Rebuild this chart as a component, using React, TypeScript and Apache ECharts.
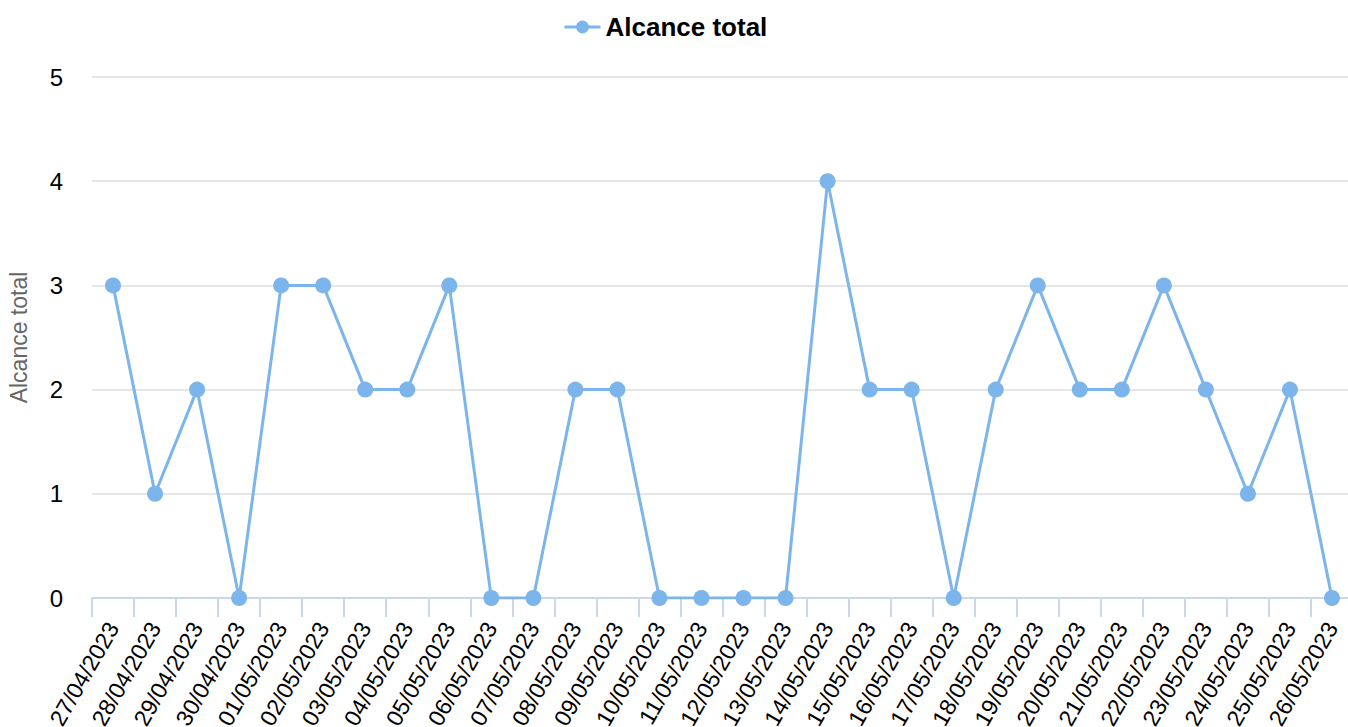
import React, { useEffect, useRef } from "react";
import * as echarts from "echarts";

const categories = [
  "27/04/2023", "28/04/2023", "29/04/2023", "30/04/2023", "01/05/2023",
  "02/05/2023", "03/05/2023", "04/05/2023", "05/05/2023", "06/05/2023",
  "07/05/2023", "08/05/2023", "09/05/2023", "10/05/2023", "11/05/2023",
  "12/05/2023", "13/05/2023", "14/05/2023", "15/05/2023", "16/05/2023",
  "17/05/2023", "18/05/2023", "19/05/2023", "20/05/2023", "21/05/2023",
  "22/05/2023", "23/05/2023", "24/05/2023", "25/05/2023", "26/05/2023",
];

const alcanceTotal = [
  3, 1, 2, 0, 3, 3, 2, 2, 3, 0, 0, 2, 2, 0, 0,
  0, 0, 4, 2, 2, 0, 2, 3, 2, 2, 3, 2, 1, 2, 0,
];

const seriesName = "Alcance total";
const FONT = "'Liberation Sans', Arial, sans-serif";

export default function App() {
  const ref = useRef<HTMLDivElement>(null);

  useEffect(() => {
    if (!ref.current) return;
    const chart = echarts.init(ref.current, null, { renderer: "svg" });
    chart.setOption({
      animation: false,
      textStyle: { fontFamily: FONT },
      legend: {
        top: 9,
        left: 558,
        itemWidth: 36,
        itemHeight: 16,
        itemGap: 8,
        lineStyle: { width: 3 },
        textStyle: { fontSize: 26, fontWeight: "bold", color: "#000", fontFamily: FONT },
        data: [seriesName],
      },
      grid: {
        left: 92,
        right: -5,
        top: 77,
        bottom: 129,
        containLabel: false,
        outerBoundsMode: "none",
      },
      xAxis: {
        type: "category",
        data: categories,
        boundaryGap: true,
        axisLine: { lineStyle: { color: "#ccd6eb", width: 2 } },
        axisTick: { show: true, length: 19, lineStyle: { color: "#ccd6eb", width: 2 } },
        axisLabel: {
          interval: 0,
          rotate: 60,
          margin: 26,
          fontSize: 23,
          color: "#000",
          fontFamily: FONT,
        },
        splitLine: { show: false },
      },
      yAxis: {
        type: "value",
        min: 0,
        max: 5,
        interval: 1,
        name: seriesName,
        nameLocation: "middle",
        nameGap: 62,
        nameTextStyle: { fontSize: 23, color: "#666", fontFamily: FONT },
        axisLine: { show: false },
        axisTick: { show: false },
        axisLabel: { fontSize: 24, color: "#000", margin: 29, fontFamily: FONT },
        splitLine: { lineStyle: { color: "#e6e6e6", width: 2 } },
      },
      series: [
        {
          name: seriesName,
          type: "line",
          data: alcanceTotal,
          symbol: "circle",
          symbolSize: 16,
          lineStyle: { color: "#7cb5ec", width: 3 },
          itemStyle: { color: "#7cb5ec" },
        },
      ],
    });
    return () => chart.dispose();
  }, []);

  return (
    <div
      ref={ref}
      style={{ position: "absolute", left: 0, top: 0, width: 1348, height: 727, background: "#fff" }}
    />
  );
}
